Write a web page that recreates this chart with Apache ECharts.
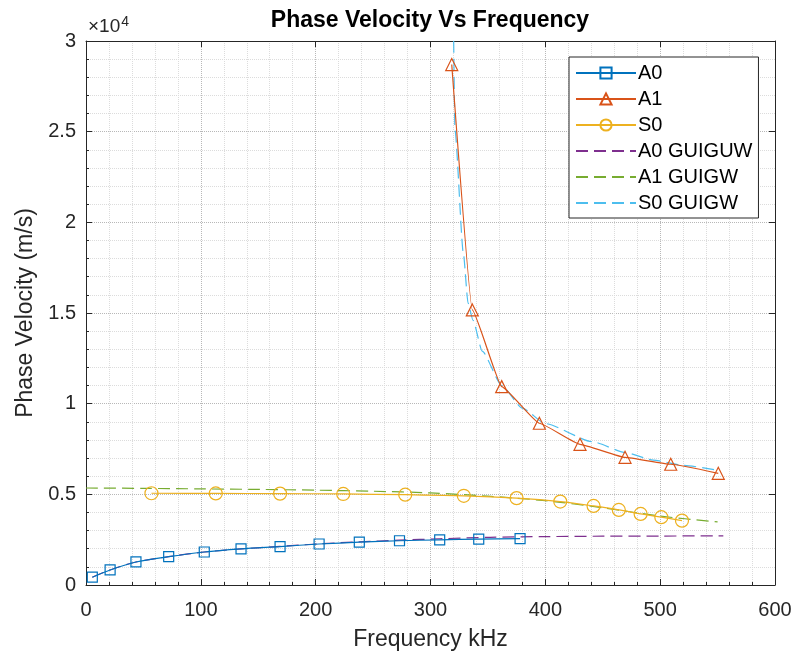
<!DOCTYPE html>
<html>
<head>
<meta charset="utf-8">
<script src="https://cdn.jsdelivr.net/npm/echarts@6/dist/echarts.min.js"></script>
<style>
  html, body { margin: 0; padding: 0; background: #fff; }
  #chart { width: 798px; height: 658px; }
</style>
</head>
<body>
<div id="chart"></div>
<script>
// 数据 (kHz, m/s)
var a0Freq = [5.5, 21, 43.5, 72, 103, 135, 169, 203, 238, 273, 308, 342, 378];
var a0Vel = [430, 830, 1270, 1560, 1820, 1990, 2120, 2260, 2360, 2440, 2490, 2530, 2560];

var a1Freq = [318.5, 336.4, 362, 394.8, 430.2, 469.4, 509.2, 550.6];
var a1Vel = [28700, 15170, 10940, 8920, 7760, 7040, 6660, 6160];

var s0Freq = [57, 113, 169, 224, 278, 329, 375, 413, 442, 464, 483, 501, 519];
var s0Vel = [5060, 5050, 5040, 5020, 4980, 4920, 4790, 4600, 4360, 4140, 3920, 3740, 3550];

var a0GuiFreq = [5.5, 21, 43.5, 72, 103, 135, 169, 203, 238, 273, 308, 352, 400, 450, 500, 555];
var a0GuiVel = [430, 830, 1270, 1560, 1820, 1990, 2130, 2270, 2380, 2470, 2550, 2630, 2670, 2690, 2700, 2710];

var a1GuiFreq = [0, 50, 100, 150, 200, 250, 300, 350, 400, 450, 500, 550];
var a1GuiVel = [5350, 5330, 5300, 5270, 5230, 5170, 5080, 4900, 4650, 4260, 3800, 3480];

var s0GuiFreq = [320, 321.3, 328.6, 332.7, 337, 345, 362, 380, 400, 441, 470, 494, 520, 548];
var s0GuiVel = [31000, 25100, 18300, 15550, 14600, 12900, 11000, 9750, 8900, 7900, 7300, 6890, 6600, 6350];

var xTicks = [0, 100, 200, 300, 400, 500, 600];
var yTicks = [0, 5000, 10000, 15000, 20000, 25000, 30000];

function zip(xs, ys) {
  return xs.map(function (x, i) { return [x, ys[i]]; });
}

var axisColor = "#262626";
var fontName = "Liberation Sans";
// 图例里虚线不显示圆点
var noSymbol = { color: "rgba(0,0,0,0)", borderWidth: 0 };

var myChart = echarts.init(document.getElementById("chart"));

var option = {
  backgroundColor: "#fff",
  animation: false,
  textStyle: { fontFamily: fontName },
  title: {
    text: "Phase Velocity Vs Frequency",
    left: 430,
    top: 9,
    padding: 0,
    textAlign: "center",
    textStyle: { fontFamily: fontName, fontSize: 23, fontWeight: "bold", color: "#000" }
  },
  grid: { left: 86, right: 23, top: 41, bottom: 73, containLabel: false },
  legend: {
    orient: "vertical",
    left: 569,
    top: 57,
    padding: [6, 6, 5, 6],
    itemGap: 6,
    itemWidth: 60,
    itemHeight: 14,
    backgroundColor: "#fff",
    borderColor: axisColor,
    borderWidth: 1,
    borderRadius: 0,
    textStyle: { fontFamily: fontName, fontSize: 20, color: "#000", padding: [0, 0, 0, -3] },
    data: [
      { name: "A0" },
      { name: "A1" },
      { name: "S0" },
      { name: "A0 GUIGUW", itemStyle: noSymbol },
      { name: "A1 GUIGW", itemStyle: noSymbol },
      { name: "S0 GUIGW", itemStyle: noSymbol }
    ]
  },
  xAxis: [
    {
      type: "value",
      min: 0,
      max: 600,
      interval: 100,
      name: "Frequency kHz",
      nameLocation: "middle",
      nameGap: 43,
      nameTextStyle: { fontSize: 23, color: axisColor },
      axisLine: { show: true, onZero: false, lineStyle: { color: axisColor, width: 1 } },
      axisTick: { show: true, inside: true, length: 6, lineStyle: { color: axisColor } },
      minorTick: { show: true, splitNumber: 5, length: 3, lineStyle: { color: axisColor } },
      axisLabel: { fontSize: 20, color: axisColor, margin: 15 },
      splitLine: { show: true, lineStyle: { color: "#b8b8b8", type: "dotted", width: 1 } },
      minorSplitLine: { show: true, lineStyle: { color: "#dcdcdc", type: "dotted", width: 1 } }
    },
    {
      type: "value",
      position: "top",
      min: 0,
      max: 600,
      interval: 100,
      axisLine: { show: true, onZero: false, lineStyle: { color: axisColor, width: 1 } },
      axisTick: { show: true, inside: true, length: 6, lineStyle: { color: axisColor } },
      axisLabel: { show: false },
      splitLine: { show: false }
    }
  ],
  yAxis: [
    {
      type: "value",
      min: 0,
      max: 30000,
      interval: 5000,
      name: "Phase Velocity (m/s)",
      nameLocation: "middle",
      nameGap: 46,
      nameTextStyle: { fontSize: 23, color: axisColor },
      axisLine: { show: true, onZero: false, lineStyle: { color: axisColor, width: 1 } },
      axisTick: { show: true, inside: true, length: 6, lineStyle: { color: axisColor } },
      minorTick: { show: true, splitNumber: 5, length: 3, lineStyle: { color: axisColor } },
      axisLabel: {
        fontSize: 20,
        color: axisColor,
        margin: 10,
        formatter: function (v) { return String(v / 10000); }
      },
      splitLine: { show: true, lineStyle: { color: "#b8b8b8", type: "dotted", width: 1 } },
      minorSplitLine: { show: true, lineStyle: { color: "#dcdcdc", type: "dotted", width: 1 } }
    },
    {
      type: "value",
      position: "right",
      min: 0,
      max: 30000,
      interval: 5000,
      axisLine: { show: true, onZero: false, lineStyle: { color: axisColor, width: 1 } },
      axisTick: { show: true, inside: true, length: 6, lineStyle: { color: axisColor } },
      axisLabel: { show: false },
      splitLine: { show: false }
    }
  ],
  graphic: [
    {
      type: "text",
      left: 88,
      top: 15,
      style: {
        text: "\u00d710{sup|4}",
        fontFamily: fontName,
        fontSize: 19,
        fill: axisColor,
        rich: { sup: { fontSize: 14, verticalAlign: "top", padding: [0, 0, 10, 1] } }
      }
    }
  ],
  series: [
    {
      name: "A0",
      type: "line",
      data: zip(a0Freq, a0Vel),
      smooth: 0.3,
      symbol: "rect",
      symbolSize: 10,
      z: 5,
      color: "#0072BD",
      lineStyle: { color: "#0072BD", width: 1.2 },
      itemStyle: { color: "rgba(255,255,255,0)", borderColor: "#0072BD", borderWidth: 1.2 }
    },
    {
      name: "A1",
      type: "line",
      data: zip(a1Freq, a1Vel),
      smooth: 0.12,
      smoothMonotone: "x",
      symbol: "triangle",
      symbolSize: 12,
      z: 5,
      color: "#D95319",
      lineStyle: { color: "#D95319", width: 1.2 },
      itemStyle: { color: "rgba(255,255,255,0)", borderColor: "#D95319", borderWidth: 1.2 }
    },
    {
      name: "S0",
      type: "line",
      data: zip(s0Freq, s0Vel),
      smooth: 0.3,
      symbol: "circle",
      symbolSize: 13,
      z: 5,
      color: "#EDB120",
      lineStyle: { color: "#EDB120", width: 1.2 },
      itemStyle: { color: "rgba(255,255,255,0)", borderColor: "#EDB120", borderWidth: 1.2 }
    },
    {
      name: "A0 GUIGUW",
      type: "line",
      data: zip(a0GuiFreq, a0GuiVel),
      smooth: 0.3,
      symbol: "none",
      z: 4,
      color: "#7E2F8E",
      lineStyle: { color: "#7E2F8E", width: 1.2, type: [12, 6] }
    },
    {
      name: "A1 GUIGW",
      type: "line",
      data: zip(a1GuiFreq, a1GuiVel),
      smooth: 0.3,
      symbol: "none",
      z: 4,
      color: "#77AC30",
      lineStyle: { color: "#77AC30", width: 1.2, type: [12, 6] }
    },
    {
      name: "S0 GUIGW",
      type: "line",
      data: zip(s0GuiFreq, s0GuiVel),
      smooth: 0.2,
      smoothMonotone: "x",
      symbol: "none",
      z: 4,
      color: "#4DBEEE",
      lineStyle: { color: "#4DBEEE", width: 1.2, type: [12, 6] }
    }
  ]
};

myChart.setOption(option);
</script>
</body>
</html>
